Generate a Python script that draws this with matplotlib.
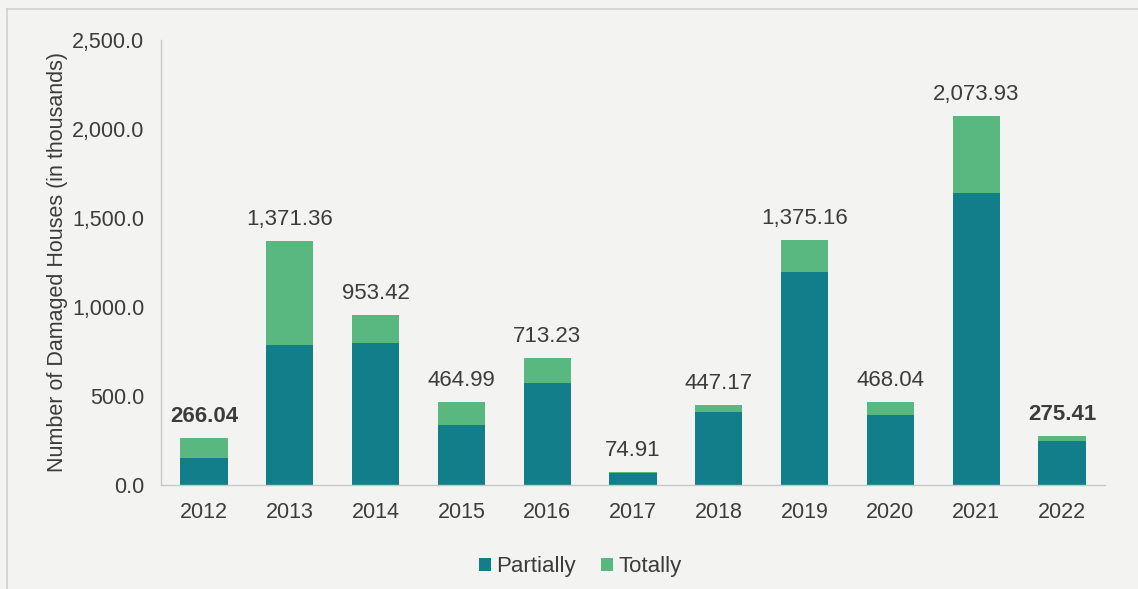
import numpy as np
import matplotlib.pyplot as plt
from matplotlib.lines import Line2D
from matplotlib.ticker import FuncFormatter

years = ["2012", "2013", "2014", "2015", "2016", "2017",
         "2018", "2019", "2020", "2021", "2022"]
totals = [266.04, 1371.36, 953.42, 464.99, 713.23, 74.91,
          447.17, 1375.16, 468.04, 2073.93, 275.41]
partially = [153, 787, 799, 337, 571, 66, 412, 1198, 393, 1642, 247]
totally = [t - p for t, p in zip(totals, partially)]
bold_labels = ["2012", "2022"]

c_part = "#117e89"
c_tot = "#58b87f"
c_text = "#3c3c3c"
bg = "#f3f3f2"

plt.rcParams["font.family"] = ["Liberation Sans", "DejaVu Sans"]

fig = plt.figure(figsize=(11.38, 5.89), dpi=100, facecolor=bg)
ax = fig.add_axes([0.1415, 0.1766, 0.8295, 0.7555])
ax.set_facecolor(bg)

x = np.arange(len(years))
w = 0.55
ax.bar(x, partially, w, color=c_part, label="Partially")
ax.bar(x, totally, w, bottom=partially, color=c_tot, label="Totally")

for i, (yr, t) in enumerate(zip(years, totals)):
    ax.text(i, t + 62, f"{t:,.2f}", ha="center", va="bottom",
            fontsize=16, color=c_text,
            fontweight="bold" if yr in bold_labels else "normal")

ax.set_xlim(-0.5, len(years) - 0.5)
ax.set_ylim(0, 2500)
ax.set_yticks(np.arange(0, 2501, 500))
ax.yaxis.set_major_formatter(FuncFormatter(lambda v, _: f"{v:,.1f}"))
ax.set_xticks(x)
ax.set_xticklabels(years)
ax.tick_params(axis="both", length=0, labelsize=15.5, labelcolor=c_text)
ax.tick_params(axis="x", pad=12)
ax.tick_params(axis="y", pad=12)

for s in ["top", "right"]:
    ax.spines[s].set_visible(False)
for s in ["left", "bottom"]:
    ax.spines[s].set_color("#c8c8c8")
    ax.spines[s].set_linewidth(1.0)

ax.set_ylabel("Number of Damaged Houses (in thousands)", fontsize=15.5,
              color=c_text, labelpad=3)

ax.legend(loc="upper center", bbox_to_anchor=(0.444, -0.115), ncol=2,
          frameon=False, fontsize=16, handlelength=0.55, handleheight=0.55,
          handletextpad=0.25, columnspacing=1.1, labelcolor=c_text)

# outer frame, left and top edges
fig.add_artist(Line2D([7 / 1138, 7 / 1138], [0, 1 - 9 / 589],
                      transform=fig.transFigure, color="#cfcfcf", lw=1.2))
fig.add_artist(Line2D([7 / 1138, 1], [1 - 9 / 589, 1 - 9 / 589],
                      transform=fig.transFigure, color="#cfcfcf", lw=1.2))

fig.savefig("out.png", dpi=100, facecolor=bg)
